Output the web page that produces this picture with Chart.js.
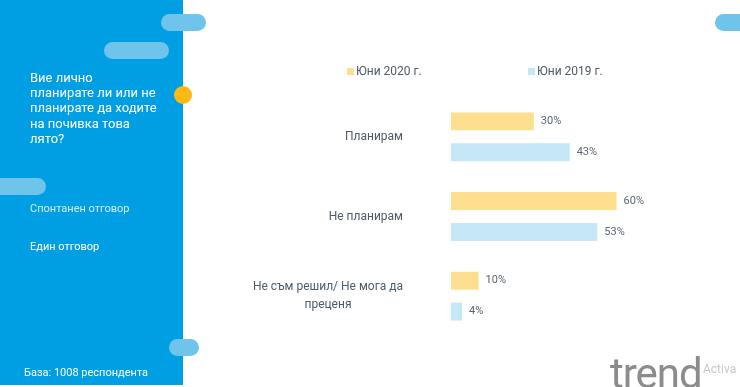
<!DOCTYPE html>
<html>
<head>
<meta charset="utf-8">
<script src="https://cdn.jsdelivr.net/npm/chart.js@4.4.1/dist/chart.umd.min.js"></script>
<style>
  body { margin: 0; width: 740px; height: 387px; overflow: hidden; background: #fff; position: relative; font-family: Roboto, "Noto Sans", sans-serif; }
  #panel { position: absolute; left: 0; top: 0; width: 183px; height: 385px; background: #009fe3; }
  .pill { position: absolute; height: 17px; border-radius: 9px; background: #6fc4ec; z-index: 2; }
  #dot { position: absolute; left: 174px; top: 86px; width: 18px; height: 18px; border-radius: 50%; background: #fdb913; z-index: 2; }
  .ptext { position: absolute; color: #fff; z-index: 2; white-space: nowrap; }
  #question { left: 30px; top: 70px; font-size: 13px; line-height: 15.2px; font-weight: 400; }
  #note1 { left: 30px; top: 201px; font-size: 11px; line-height: 16px; color: #d4ecf9; }
  #note2 { left: 30px; top: 239px; font-size: 11px; line-height: 16px; }
  #base { left: 24px; top: 365px; font-size: 11px; line-height: 16px; }
  #logo { position: absolute; left: 610px; top: 350px; font-size: 42px; line-height: 48px; color: #8c8c8c; letter-spacing: -1px; z-index: 2; }
  #activa { position: absolute; left: 703px; top: 362px; font-size: 12px; color: #c8c8c8; z-index: 2; }
  canvas { position: absolute; left: 0; top: 0; z-index: 1; }
</style>
</head>
<body>
<div id="panel"></div>
<div class="pill" style="left:161px; top:14px; width:45px;"></div>
<div class="pill" style="left:104px; top:42px; width:65px;"></div>
<div class="pill" style="left:-10px; top:178px; width:56px;"></div>
<div class="pill" style="left:169px; top:339px; width:30px;"></div>
<div class="pill" style="left:715px; top:14px; width:40px;"></div>
<div id="dot"></div>
<div id="question" class="ptext">Вие лично<br>планирате ли или не<br>планирате да ходите<br>на почивка това<br>лято?</div>
<div id="note1" class="ptext">Спонтанен отговор</div>
<div id="note2" class="ptext">Един отговор</div>
<div id="base" class="ptext">База: 1008 респондента</div>
<div id="logo">trend</div>
<div id="activa">Activa</div>
<canvas id="chart" width="740" height="387"></canvas>
<script>
const categories = ['Планирам', 'Не планирам', ['Не съм решил/ Не мога да', 'преценя']];
const seriesNames = ['Юни 2020 г.', 'Юни 2019 г.'];
const june2020 = [30, 60, 10];
const june2019 = [43, 53, 4];
const seriesColors = ['#fedf8f', '#c6e7f6'];

// value labels, category labels and legend drawn on the canvas
const textPlugin = {
  id: 'textPlugin',
  afterDatasetsDraw(chart) {
    const ctx = chart.ctx;
    const area = chart.chartArea;
    ctx.save();
    ctx.textBaseline = 'middle';

    ctx.font = '11px Roboto';
    ctx.fillStyle = '#5a6570';
    ctx.textAlign = 'left';
    chart.data.datasets.forEach((ds, i) => {
      chart.getDatasetMeta(i).data.forEach((bar, j) => {
        ctx.fillText(ds.data[j] + '%', bar.x + 7, bar.y);
      });
    });

    ctx.font = '12px Roboto';
    ctx.fillStyle = '#4f5b66';
    ctx.textAlign = 'center';
    const yScale = chart.scales.y;
    categories.forEach((c, i) => {
      const y = yScale.getPixelForValue(i);
      const lines = Array.isArray(c) ? c : [c];
      const w = Math.max(...lines.map(l => ctx.measureText(l).width));
      const mid = area.left - 48 - w / 2;
      lines.forEach((l, k) => ctx.fillText(l, mid, y + (k - (lines.length - 1) / 2) * 18));
    });

    // legend
    const legendX = [area.left - 104, area.left + 77];
    ctx.textAlign = 'left';
    chart.data.datasets.forEach((ds, i) => {
      ctx.fillStyle = ds.backgroundColor;
      ctx.fillRect(legendX[i], 68, 7, 7);
      ctx.fillStyle = '#4f5b66';
      ctx.fillText(ds.label, legendX[i] + 9, 71.5);
    });
    ctx.restore();
  }
};

new Chart(document.getElementById('chart'), {
  type: 'bar',
  data: {
    labels: categories,
    datasets: [
      { label: seriesNames[0], data: june2020, backgroundColor: seriesColors[0] },
      { label: seriesNames[1], data: june2019, backgroundColor: seriesColors[1] }
    ]
  },
  options: {
    indexAxis: 'y',
    responsive: false,
    animation: false,
    categoryPercentage: 0.775,
    barPercentage: 0.58,
    layout: { padding: { left: 451, right: 13, top: 97, bottom: 51 } },
    scales: {
      x: { display: false, min: 0, max: 100 },
      y: { display: false }
    },
    plugins: {
      legend: { display: false },
      tooltip: { enabled: false }
    }
  },
  plugins: [textPlugin]
});
</script>
</body>
</html>
